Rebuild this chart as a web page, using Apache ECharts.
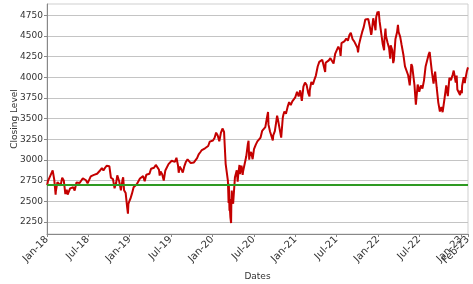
<!DOCTYPE html>
<html>
<head>
<meta charset="utf-8">
<script src="https://cdn.jsdelivr.net/npm/echarts@6/dist/echarts.min.js"></script>
<style>
html,body{margin:0;padding:0;background:#fff;}
#chart{width:473px;height:284px;}
</style>
</head>
<body>
<div id="chart"></div>
<script>
var dates = [
'2018-01-02','2018-01-05','2018-01-12','2018-01-19','2018-01-26','2018-02-02','2018-02-08','2018-02-09','2018-02-16','2018-02-23','2018-03-02','2018-03-09','2018-03-16','2018-03-23','2018-03-29','2018-04-02','2018-04-06','2018-04-13','2018-04-20','2018-04-27','2018-05-03','2018-05-11','2018-05-18','2018-05-25','2018-06-01','2018-06-08','2018-06-15','2018-06-22','2018-06-29','2018-07-06','2018-07-13','2018-07-20','2018-07-27','2018-08-03','2018-08-10','2018-08-17','2018-08-24','2018-08-31','2018-09-07','2018-09-14','2018-09-21','2018-09-28','2018-10-03','2018-10-10','2018-10-19','2018-10-26','2018-10-29','2018-11-02','2018-11-07','2018-11-16','2018-11-23','2018-11-30','2018-12-03','2018-12-07','2018-12-14','2018-12-21','2018-12-24','2018-12-26','2018-12-31',
'2019-01-04','2019-01-11','2019-01-18','2019-01-25','2019-02-01','2019-02-08','2019-02-15','2019-02-22','2019-03-01','2019-03-08','2019-03-15','2019-03-22','2019-03-29','2019-04-05','2019-04-12','2019-04-18','2019-04-26','2019-05-03','2019-05-10','2019-05-13','2019-05-17','2019-05-24','2019-05-31','2019-06-03','2019-06-07','2019-06-14','2019-06-21','2019-06-28','2019-07-05','2019-07-12','2019-07-19','2019-07-26','2019-08-02','2019-08-05','2019-08-09','2019-08-16','2019-08-23','2019-08-30','2019-09-06','2019-09-13','2019-09-20','2019-09-27','2019-10-04','2019-10-11','2019-10-18','2019-10-25','2019-11-01','2019-11-08','2019-11-15','2019-11-22','2019-11-29','2019-12-06','2019-12-13','2019-12-20','2019-12-27',
'2020-01-03','2020-01-10','2020-01-17','2020-01-24','2020-01-31','2020-02-07','2020-02-14','2020-02-19','2020-02-21','2020-02-28','2020-03-06','2020-03-09','2020-03-12','2020-03-13','2020-03-16','2020-03-17','2020-03-18','2020-03-20','2020-03-23','2020-03-24','2020-03-26','2020-03-27','2020-04-01','2020-04-03','2020-04-08','2020-04-09','2020-04-17','2020-04-21','2020-04-24','2020-04-29','2020-05-01','2020-05-08','2020-05-13','2020-05-15','2020-05-22','2020-05-29','2020-06-05','2020-06-08','2020-06-11','2020-06-12','2020-06-19','2020-06-26','2020-07-02','2020-07-10','2020-07-17','2020-07-24','2020-07-31','2020-08-07','2020-08-14','2020-08-21','2020-08-28','2020-09-02','2020-09-04','2020-09-11','2020-09-18','2020-09-23','2020-09-25','2020-10-02','2020-10-09','2020-10-12','2020-10-16','2020-10-23','2020-10-30','2020-11-06','2020-11-09','2020-11-13','2020-11-20','2020-11-27','2020-12-04','2020-12-11','2020-12-18','2020-12-24','2020-12-31',
'2021-01-08','2021-01-15','2021-01-22','2021-01-29','2021-02-05','2021-02-12','2021-02-19','2021-02-26','2021-03-04','2021-03-05','2021-03-12','2021-03-19','2021-03-26','2021-04-01','2021-04-09','2021-04-16','2021-04-23','2021-04-29','2021-05-07','2021-05-12','2021-05-14','2021-05-21','2021-05-28','2021-06-04','2021-06-11','2021-06-18','2021-06-25','2021-06-30','2021-07-09','2021-07-16','2021-07-19','2021-07-23','2021-07-30','2021-08-06','2021-08-13','2021-08-20','2021-08-27','2021-09-02','2021-09-10','2021-09-17','2021-09-24','2021-10-01','2021-10-04','2021-10-08','2021-10-15','2021-10-22','2021-10-29','2021-11-05','2021-11-12','2021-11-18','2021-11-26','2021-12-01','2021-12-03','2021-12-10','2021-12-17','2021-12-20','2021-12-23','2021-12-29','2021-12-31',
'2022-01-03','2022-01-07','2022-01-14','2022-01-21','2022-01-27','2022-01-28','2022-02-02','2022-02-04','2022-02-11','2022-02-18','2022-02-23','2022-02-25','2022-03-04','2022-03-08','2022-03-11','2022-03-18','2022-03-25','2022-03-29','2022-04-01','2022-04-08','2022-04-14','2022-04-22','2022-04-29','2022-05-06','2022-05-13','2022-05-20','2022-05-27','2022-05-31','2022-06-03','2022-06-10','2022-06-16','2022-06-17','2022-06-24','2022-07-01','2022-07-08','2022-07-15','2022-07-22','2022-07-29','2022-08-05','2022-08-12','2022-08-16','2022-08-19','2022-08-26','2022-09-02','2022-09-09','2022-09-16','2022-09-23','2022-09-30','2022-10-07','2022-10-12','2022-10-14','2022-10-21','2022-10-28','2022-11-04','2022-11-11','2022-11-18','2022-11-25','2022-11-30','2022-12-02','2022-12-09','2022-12-13','2022-12-16','2022-12-23','2022-12-28','2022-12-30',
'2023-01-05','2023-01-06','2023-01-13','2023-01-18','2023-01-20','2023-01-27','2023-01-31','2023-02-01'
];
var closes = [
2696,2743,2786,2810,2873,2762,2581,2620,2732,2747,2691,2786,2752,2588,2641,2582,2604,2656,2670,2670,2630,2728,2713,2721,2735,2779,2780,2755,2718,2760,2801,2802,2819,2840,2833,2850,2875,2902,2872,2905,2930,2914,2925,2785,2768,2658,2641,2723,2814,2736,2633,2760,2790,2633,2600,2417,2351,2467,2507,
2532,2596,2671,2665,2707,2708,2776,2793,2804,2743,2822,2801,2834,2893,2907,2905,2940,2946,2881,2812,2860,2826,2752,2744,2873,2887,2950,2942,2990,3014,2977,3026,2932,2845,2919,2889,2847,2926,2979,3007,2992,2962,2952,2970,2986,3023,3067,3093,3120,3110,3141,3146,3169,3221,3240,
3235,3265,3330,3295,3226,3328,3380,3386,3338,2954,2972,2746,2481,2711,2386,2529,2398,2305,2237,2447,2630,2541,2470,2489,2750,2790,2875,2737,2837,2939,2831,2930,2820,2864,2955,3044,3194,3232,3002,3041,3098,3009,3130,3185,3225,3216,3271,3351,3373,3397,3508,3580,3427,3341,3319,3237,3298,3348,3477,3535,3484,3465,3270,3510,3550,3585,3558,3638,3699,3663,3709,3703,3756,
3825,3768,3841,3714,3887,3934,3907,3811,3768,3842,3943,3913,3975,4020,4129,4185,4180,4211,4233,4063,4174,4156,4204,4230,4247,4166,4281,4298,4370,4327,4258,4412,4395,4437,4468,4442,4509,4537,4459,4433,4455,4357,4300,4391,4471,4545,4605,4698,4682,4704,4595,4513,4538,4712,4620,4568,4725,4793,4766,
4797,4677,4663,4398,4326,4432,4589,4501,4419,4349,4225,4385,4329,4171,4204,4463,4543,4632,4546,4488,4393,4272,4132,4123,4024,3901,4158,4132,4109,3901,3667,3675,3912,3825,3899,3863,3962,4130,4145,4280,4305,4228,4058,3924,4067,3873,3693,3586,3640,3577,3583,3752,3901,3771,3993,3965,4026,4080,4072,3934,4020,3852,3845,3783,3840,
3808,3895,3999,3929,3973,4071,4077,4119
];
var baselineLevel = 2695.81;
var yTicks = [2250,2500,2750,3000,3250,3500,3750,4000,4250,4500,4750];
var xTickDates = ['2018-01-01','2018-07-01','2019-01-01','2019-07-01','2020-01-01','2020-07-01','2021-01-01','2021-07-01','2022-01-01','2022-07-01','2023-01-01'];
var xEndTickDates = ['2023-02-01'];
var monthNames = ['Jan','Feb','Mar','Apr','May','Jun','Jul','Aug','Sep','Oct','Nov','Dec'];

function ts(s){var p=s.split('-');return Date.UTC(+p[0],+p[1]-1,+p[2]);}
var seriesData = dates.map(function(d,i){return [ts(d),closes[i]];});
var xTicks = xTickDates.map(ts);
var xEndTicks = xEndTickDates.map(ts);
var xMin = ts('2018-01-01'), xMax = ts('2023-02-01');
function fmtDate(v){var d=new Date(v);return monthNames[d.getUTCMonth()]+'-'+String(d.getUTCFullYear()).slice(2);}

var chart = echarts.init(document.getElementById('chart'), null, {renderer:'canvas'});
var font = 'DejaVu Sans';
var xLabelStyle = {rotate:45, margin:4, fontFamily:font, fontSize:10, color:'#333',
  hideOverlap:false, showMinLabel:true, showMaxLabel:true, formatter:fmtDate};
chart.setOption({
  animation:false,
  backgroundColor:'#fff',
  grid:{left:47,right:5,top:4,bottom:50,show:true,borderColor:'#cfcfcf',borderWidth:1,containLabel:false,outerBoundsMode:'none'},
  xAxis:[{
    type:'value', min:xMin, max:xMax,
    name:'Dates', nameLocation:'middle', nameGap:38, nameMoveOverlap:false,
    nameTextStyle:{fontFamily:font,fontSize:9,color:'#333'},
    axisLine:{show:true,lineStyle:{color:'#888',width:1}},
    axisTick:{show:true,length:3,customValues:xTicks,lineStyle:{color:'#888'}},
    splitLine:{show:false},
    axisLabel:Object.assign({customValues:xTicks}, xLabelStyle)
  },{
    type:'value', min:xMin, max:xMax, position:'bottom',
    axisLine:{show:false},
    axisTick:{show:true,length:3,customValues:xEndTicks,lineStyle:{color:'#888'}},
    splitLine:{show:false},
    axisLabel:Object.assign({customValues:xEndTicks}, xLabelStyle)
  }],
  yAxis:{
    type:'value', min:2105, max:4885,
    name:'Closing Level', nameLocation:'middle', nameGap:28, nameRotate:90, nameMoveOverlap:false,
    nameTextStyle:{fontFamily:font,fontSize:9,color:'#333'},
    axisLine:{show:true,lineStyle:{color:'#888',width:1}},
    axisTick:{show:true,length:3,customValues:yTicks,lineStyle:{color:'#888'}},
    splitLine:{show:true,lineStyle:{color:'#c4c4c4',width:1}},
    axisLabel:{customValues:yTicks,margin:4,fontFamily:font,fontSize:9,color:'#333',
      formatter:function(v){return String(v);}}
  },
  series:[
    {type:'line', data:seriesData, showSymbol:false, symbol:'none',
     lineStyle:{color:'#c40000',width:2}, z:3},
    {type:'line', data:[[xMin,baselineLevel],[xMax,baselineLevel]], showSymbol:false, symbol:'none',
     lineStyle:{color:'#2e9a22',width:2}, z:4}
  ]
});
</script>
</body>
</html>
